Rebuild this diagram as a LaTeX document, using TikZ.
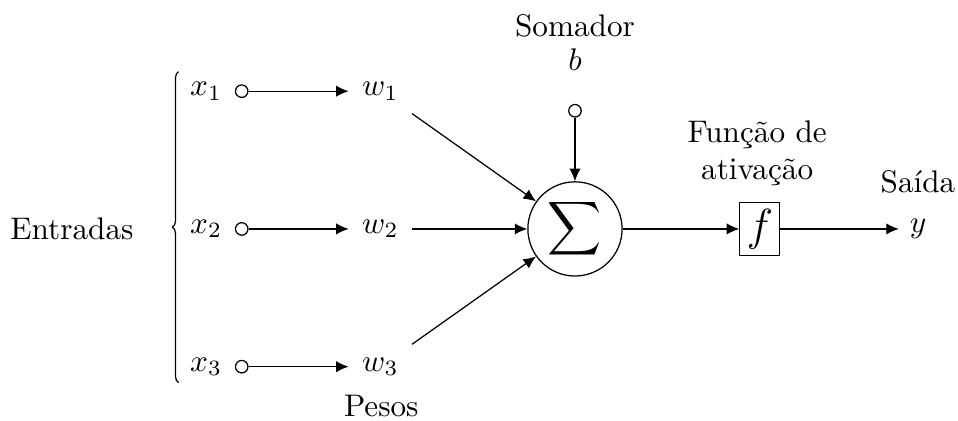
\documentclass[tikz,border=0pt]{standalone}
\usepackage{fontspec}
\usepackage{amsmath}
\usepackage{tikz}
\usetikzlibrary{arrows.meta, decorations.pathreplacing}
\tikzset{
  inputdot/.style={
    circle, draw, fill=white, inner sep=0pt, minimum size=4pt
  },
  weightnode/.style={
    inner sep=3.33pt, outer sep=1pt
  },
  sumnode/.style={
    circle, draw, inner sep=0pt, minimum size=1.06cm
  },
  actbox/.style={
    draw, rectangle, inner sep=0pt, minimum width=12.8pt, minimum height=17pt
  },
  sigarrow/.style={
    -{Latex[length=4pt, width=3.6pt]}
  },
  siglabel/.style={
    align=center
  },
}

\begin{document}
\begin{tikzpicture}
  \useasboundingbox (-6.47,-2.16) rectangle (4.31,2.576);

  % Inputs
  \node (entradas) at (-5.66,0) {Entradas};
  \draw[decorate, decoration={brace, amplitude=2pt}] (-4.46,-1.73) -- (-4.46,1.77);
  \node (x1) at (-4.15,1.55) {$x_1$};
  \node (x2) at (-4.15,0) {$x_2$};
  \node (x3) at (-4.15,-1.55) {$x_3$};
  \node[inputdot] (in1) at (-3.75,1.55) {};
  \node[inputdot] (in2) at (-3.75,0) {};
  \node[inputdot] (in3) at (-3.75,-1.55) {};

  % Weights
  \node[weightnode] (w1) at (-2.19,1.55) {$w_1$};
  \node[weightnode] (w2) at (-2.19,0) {$w_2$};
  \node[weightnode] (w3) at (-2.19,-1.55) {$w_3$};
  \node (pesos) at (-2.18,-1.99) {Pesos};
  \draw[sigarrow] (in1) -- (w1);
  \draw[sigarrow] (in2) -- (w2);
  \draw[sigarrow] (in3) -- (w3);

  % Summing junction and bias
  \node[sumnode] (sum) at (0,0) {\large$\displaystyle\sum$};
  \node[inputdot] (bias) at (0,1.33) {};
  \node (b) at (0,1.90) {$b$};
  \node (somador) at (0,2.29) {Somador};
  \draw[sigarrow] (w1) -- (sum);
  \draw[sigarrow] (w2) -- (sum);
  \draw[sigarrow] (w3) -- (sum);
  \draw[sigarrow] (bias) -- (sum);

  % Activation and output
  \node[actbox] (f) at (2.08,0) {\Large$f$};
  \node[siglabel] (funcao) at (2.05,0.85) {Função de\\ativação};
  \node (y) at (3.86,0) {$y$};
  \node (saida) at (3.86,0.53) {Saída};
  \draw[sigarrow] (sum) -- (f);
  \draw[sigarrow] (f) -- (y);
\end{tikzpicture}
\end{document}
